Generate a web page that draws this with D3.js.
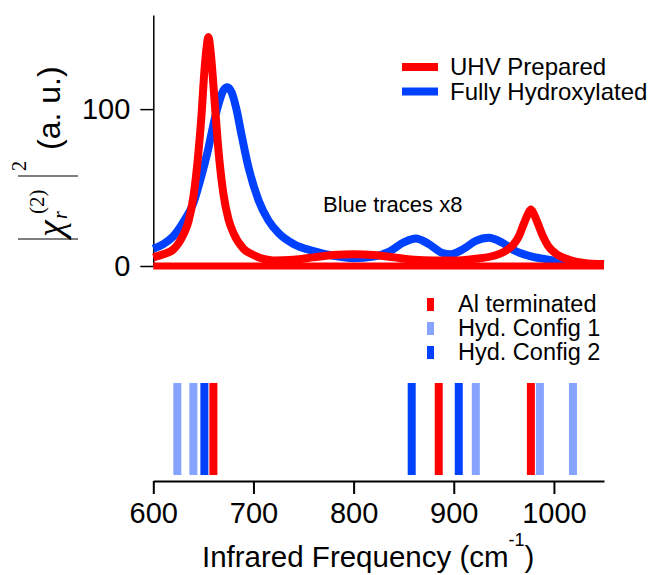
<!DOCTYPE html>
<html>
<head>
<meta charset="utf-8">
<script src="https://cdnjs.cloudflare.com/ajax/libs/d3/7.8.5/d3.min.js"></script>
<style>
  body { margin: 0; background: #fff; font-family: "Liberation Sans", Helvetica, Arial, sans-serif; }
  svg text { fill: #000; }
</style>
</head>
<body>
<div id="chart"></div>
<script>
// spectra (blue already scaled x8)
var redFreq = [600, 610, 620, 630, 635, 640, 645, 648, 651, 653, 655, 657, 659, 662, 665, 670, 675, 680, 690, 700,
               710, 720, 740, 760, 780, 800, 820, 840, 860, 880, 900, 920, 940, 950, 960, 965, 970, 974, 977, 980,
               984, 989, 994, 1004, 1015, 1030, 1050];
var redVals = [5.5, 7.5, 10.5, 20, 28, 44, 72, 95, 124, 138, 146, 138, 124, 98, 74, 46, 30, 21, 11, 7,
               4.5, 3.5, 4, 5.5, 7, 7.5, 7, 5.5, 4, 3.5, 3.5, 4.5, 6.5, 9, 14, 19, 27, 33, 36, 33,
               27, 19, 13, 7, 4, 2, 1.2];

var blueFreq = [600, 610, 620, 630, 640, 647, 655, 660, 665, 670, 674, 678, 683, 688, 695, 705, 715, 725, 740, 760,
                780, 800, 820, 835, 850, 862, 875, 888, 897, 910, 922, 935, 948, 960, 975, 990, 1010, 1030, 1050];
var blueVals = [11, 14, 19, 28, 40, 55, 75, 90, 103, 112, 114, 111, 100, 84, 63, 42, 29, 21, 14, 9.5,
                6.5, 5, 6, 9, 15, 17.5, 14, 8.5, 7.5, 11, 16, 18, 15, 10, 6.5, 4.5, 2.5, 1.5, 1];

// calculated mode positions (stick spectra)
var alTerminated = [660, 885, 977];
var hydConfig1 = [624, 640, 922, 986, 1019];
var hydConfig2 = [651, 858, 905];

var xTicks = [600, 700, 800, 900, 1000];
var yTicks = [0, 100];

var RED = "#ff0000", BLUE = "#0040ff", LIGHTBLUE = "#85a3ff";

var W = 655, H = 575;
var svg = d3.select("#chart").append("svg")
  .attr("width", W).attr("height", H);

var x = d3.scaleLinear().domain([600, 1050]).range([153.3, 604]);
var y = d3.scaleLinear().domain([0, 160]).range([266, 15]);
var yStick = d3.scaleLinear().domain([0, 1]).range([475, 383]);

// ---- top panel ----
var yAxis = svg.append("g")
  .attr("transform", "translate(" + x(600) + ",0)")
  .call(d3.axisLeft(y).tickValues(yTicks).tickSize(13).tickSizeOuter(0).tickPadding(10));
yAxis.select(".domain").attr("stroke-width", 1.5);
yAxis.selectAll(".tick line").attr("stroke-width", 1.5);
yAxis.selectAll(".tick text")
  .style("font-family", "Liberation Sans, Helvetica, Arial, sans-serif")
  .style("font-size", "29px");

var line = d3.line()
  .x(function(d) { return x(d[0]); })
  .y(function(d) { return y(d[1]); })
  .curve(d3.curveMonotoneX);

var blueData = blueFreq.map(function(f, i) { return [f, blueVals[i]]; });
var redData = redFreq.map(function(f, i) { return [f, redVals[i]]; });

svg.append("path").datum(blueData)
  .attr("d", line).attr("fill", "none")
  .attr("stroke", BLUE).attr("stroke-width", 8);

// zero lines
svg.append("path").datum(x.domain().map(function(f) { return [f, 0]; }))
  .attr("d", line).attr("fill", "none")
  .attr("stroke", RED).attr("stroke-width", 7);

svg.append("path").datum(redData)
  .attr("d", line).attr("fill", "none")
  .attr("stroke", RED).attr("stroke-width", 8);

svg.append("text")
  .attr("x", 323).attr("y", 212)
  .style("font-size", "22px")
  .text("Blue traces x8");

// legend top
var legTop = [["UHV Prepared", RED], ["Fully Hydroxylated", BLUE]];
legTop.forEach(function(d, i) {
  var yy = 67 + i * 24.5;
  svg.append("line")
    .attr("x1", 402).attr("x2", 438).attr("y1", yy).attr("y2", yy)
    .attr("stroke", d[1]).attr("stroke-width", 8);
  svg.append("text")
    .attr("x", 450).attr("y", yy + 8)
    .style("font-size", "24px")
    .text(d[0]);
});

// y label, rotated
var yl = svg.append("g").attr("transform", "translate(60,0) rotate(-90)");
yl.append("line").attr("x1", -239).attr("x2", -239).attr("y1", -42).attr("y2", 18)
  .attr("stroke", "#000").attr("stroke-width", 1.2);
yl.append("line").attr("x1", -176).attr("x2", -176).attr("y1", -42).attr("y2", 18)
  .attr("stroke", "#000").attr("stroke-width", 1.2);
yl.append("text").attr("x", -237).attr("y", 3)
  .style("font-family", "Liberation Serif, DejaVu Serif, serif")
  .style("font-style", "italic").style("font-size", "38px").text("\u03c7");
yl.append("text").attr("x", -219).attr("y", 7)
  .style("font-family", "Liberation Serif, DejaVu Serif, serif")
  .style("font-style", "italic").style("font-size", "20px").text("r");
yl.append("text").attr("x", -214).attr("y", -16)
  .style("font-family", "Liberation Serif, DejaVu Serif, serif")
  .style("font-size", "21px").text("(2)");
yl.append("text").attr("x", -171).attr("y", -34)
  .style("font-family", "Liberation Serif, DejaVu Serif, serif")
  .style("font-size", "20px").text("2");
yl.append("text").attr("x", -150).attr("y", 0)
  .style("font-size", "32px").text("(a. u.)");

// ---- bottom panel ----
var sticks = [
  { name: "Al terminated", color: RED, freqs: alTerminated },
  { name: "Hyd. Config 1", color: LIGHTBLUE, freqs: hydConfig1 },
  { name: "Hyd. Config 2", color: BLUE, freqs: hydConfig2 }
];

[sticks[1], sticks[2], sticks[0]].forEach(function(s) {
  svg.append("g").selectAll("line")
    .data(s.freqs).enter().append("line")
    .attr("x1", function(d) { return x(d); })
    .attr("x2", function(d) { return x(d); })
    .attr("y1", yStick(0)).attr("y2", yStick(1))
    .attr("stroke", s.color).attr("stroke-width", 8);
});

sticks.forEach(function(s, i) {
  var yy = 305 + i * 24;
  svg.append("rect")
    .attr("x", 427).attr("y", yy - 7).attr("width", 7).attr("height", 13)
    .attr("fill", s.color);
  svg.append("text")
    .attr("x", 458).attr("y", yy + 7)
    .style("font-size", "23.5px")
    .text(s.name);
});

var xAxis = svg.append("g")
  .attr("transform", "translate(0,481)")
  .call(d3.axisBottom(x).tickValues(xTicks).tickFormat(d3.format("d"))
    .tickSize(13).tickSizeOuter(0).tickPadding(8));
xAxis.select(".domain").attr("stroke-width", 2);
xAxis.selectAll(".tick line").attr("stroke-width", 2);
xAxis.selectAll(".tick text")
  .style("font-family", "Liberation Sans, Helvetica, Arial, sans-serif")
  .style("font-size", "29px");

var xt = svg.append("text")
  .attr("x", 202).attr("y", 567)
  .style("font-size", "29.5px");
xt.append("tspan").text("Infrared Frequency (cm");
xt.append("tspan").attr("dy", -21).style("font-size", "18px").text("-1");
xt.append("tspan").attr("dy", 21).text(")");
</script>
</body>
</html>
